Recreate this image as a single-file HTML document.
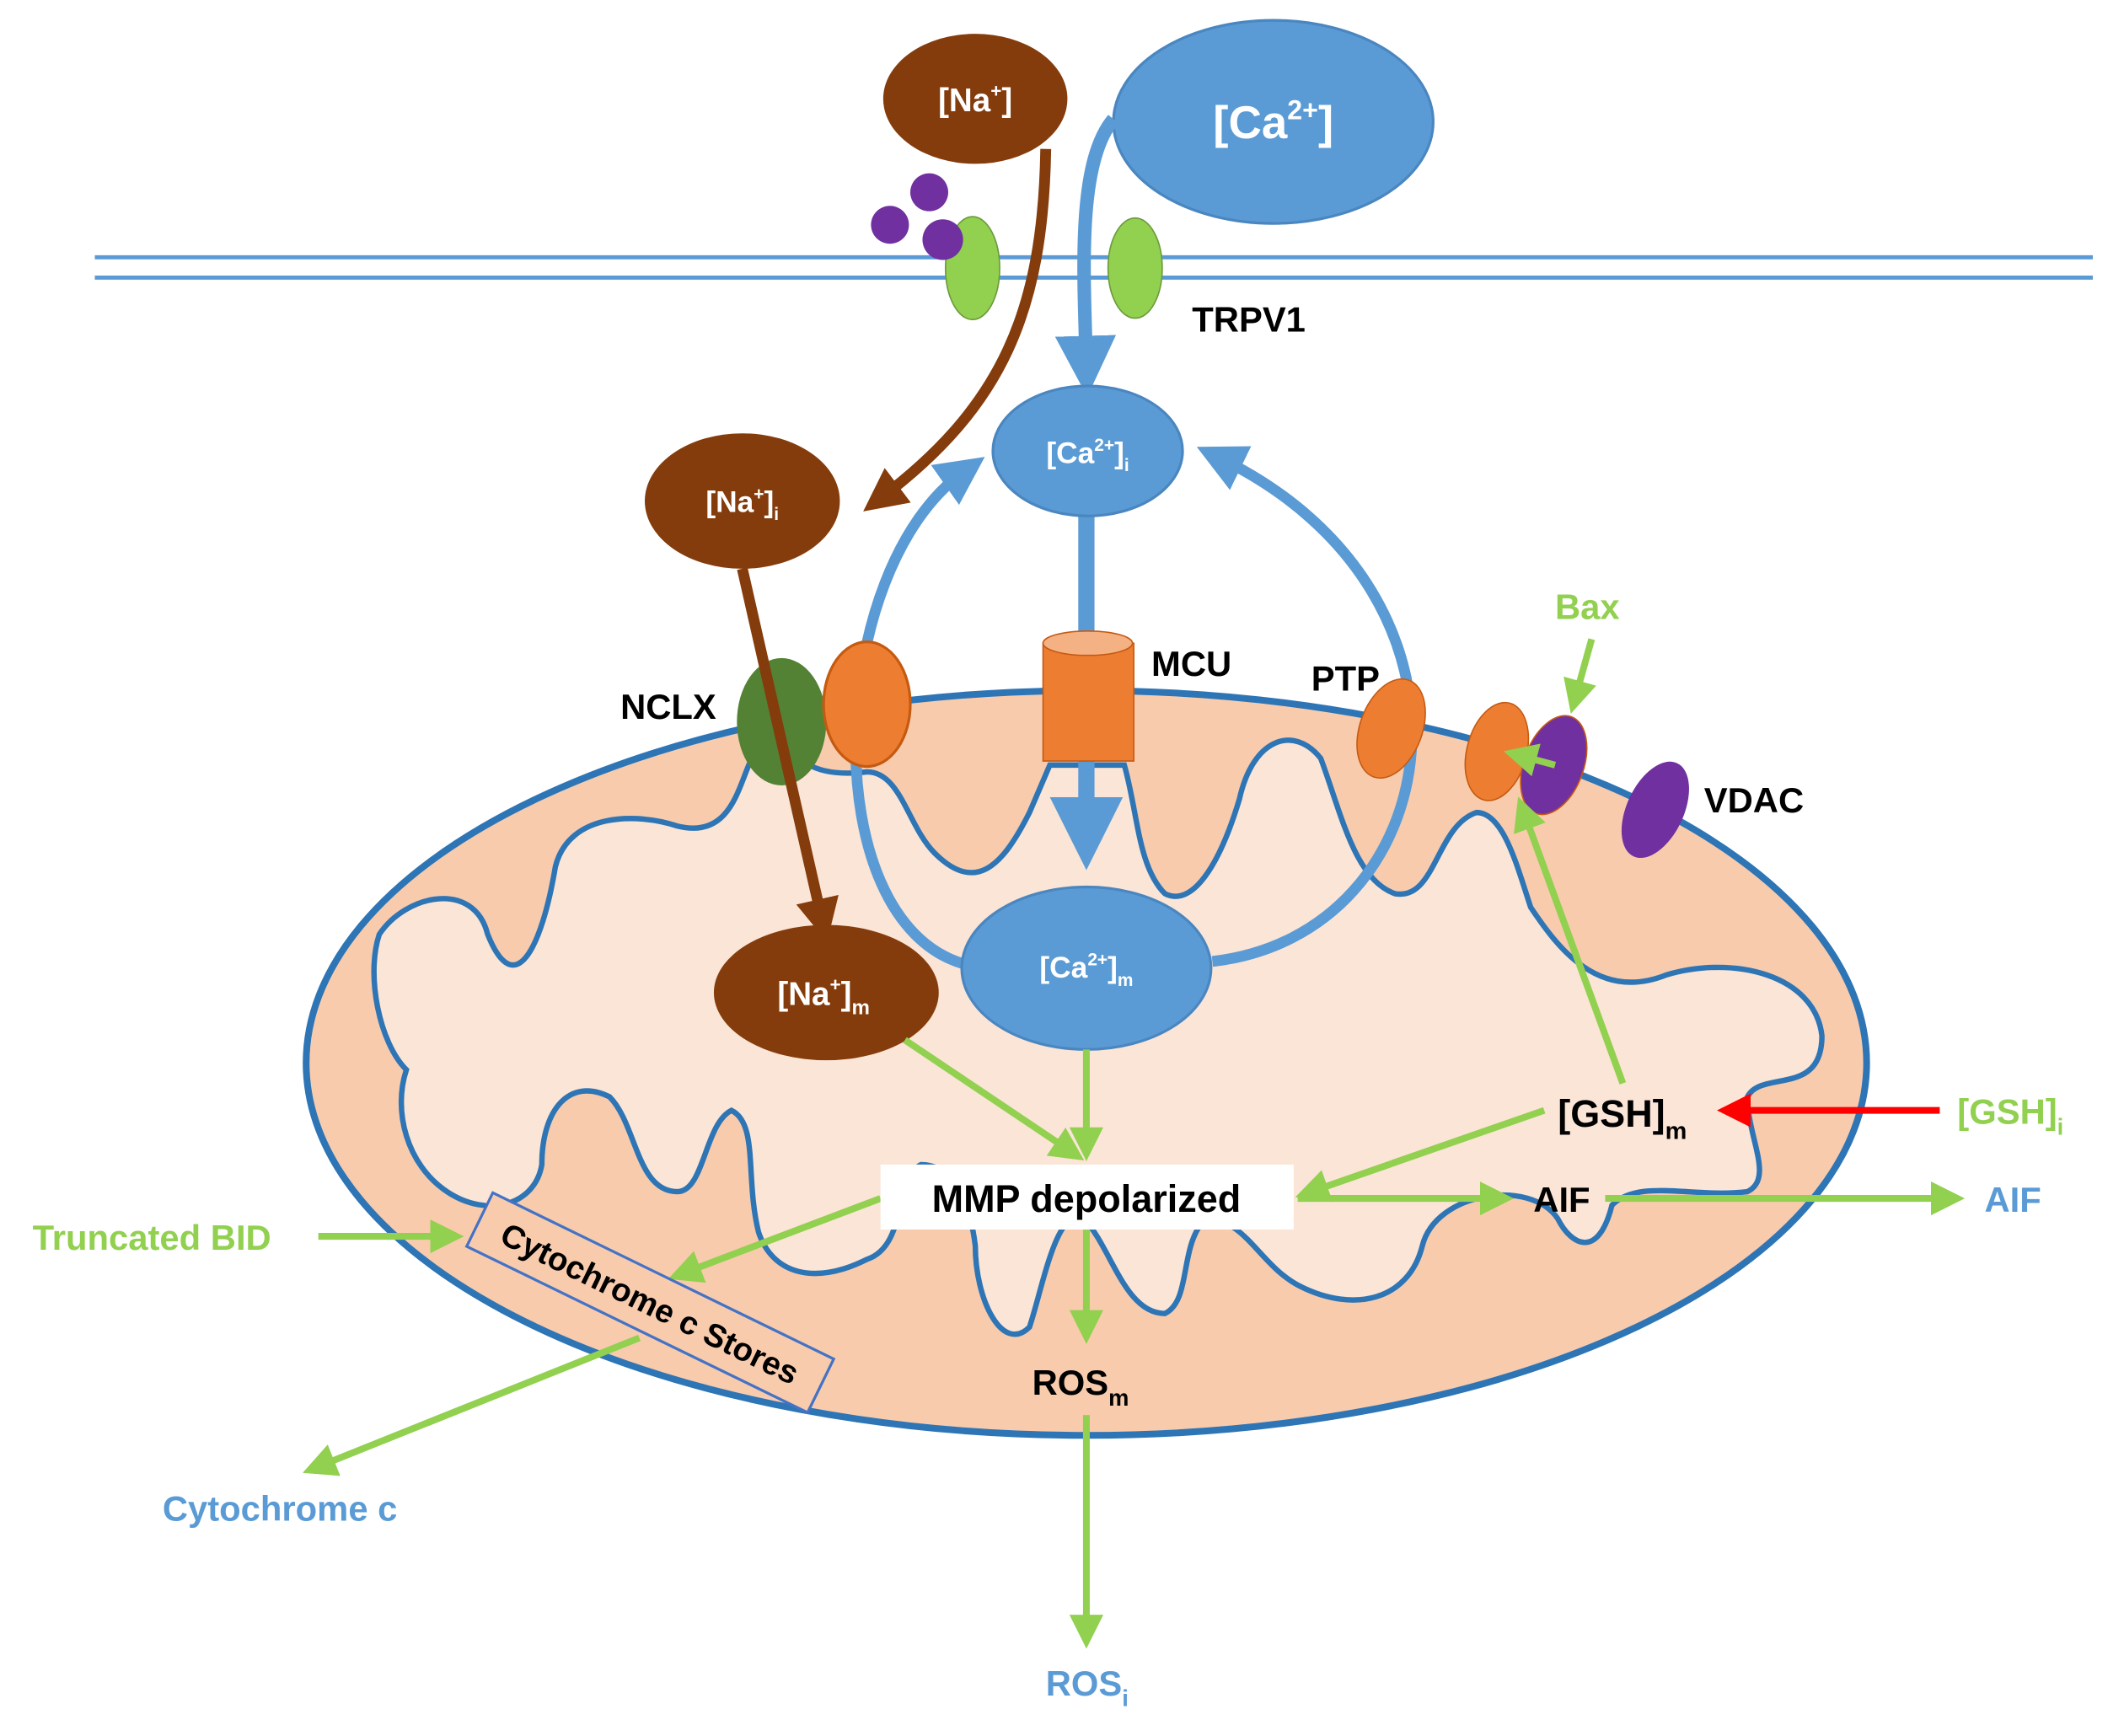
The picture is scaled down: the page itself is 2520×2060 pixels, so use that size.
<!DOCTYPE html>
<html><head><meta charset="utf-8"><style>
html,body{margin:0;padding:0;background:#fff;width:2520px;height:2060px;overflow:hidden}
svg{display:block}
text{font-family:"Liberation Sans",sans-serif;font-weight:bold}
</style></head><body>
<svg width="2520" height="2060" viewBox="0 0 1568 1282" preserveAspectRatio="none" xmlns="http://www.w3.org/2000/svg">
<defs>
<marker id="ab" markerWidth="4.5" markerHeight="4.5" refX="2.2" refY="2.25" orient="auto" markerUnits="strokeWidth"><path d="M0,0L4.5,2.25L0,4.5Z" fill="#5b9bd5"/></marker>
<marker id="ar" markerWidth="4" markerHeight="4" refX="2" refY="2" orient="auto" markerUnits="strokeWidth"><path d="M0,0L4,2L0,4Z" fill="#843c0c"/></marker>
<marker id="ag" markerWidth="5" markerHeight="5" refX="2.5" refY="2.5" orient="auto" markerUnits="strokeWidth"><path d="M0,0L5,2.5L0,5Z" fill="#92d050"/></marker>
<marker id="arr" markerWidth="5" markerHeight="5" refX="2.5" refY="2.5" orient="auto" markerUnits="strokeWidth"><path d="M0,0L5,2.5L0,5Z" fill="#ff0000"/></marker>
</defs>
<line x1="70" y1="190" x2="1545" y2="190" stroke="#5b9bd5" stroke-width="3"/>
<line x1="70" y1="205" x2="1545" y2="205" stroke="#5b9bd5" stroke-width="3"/>
<ellipse cx="802" cy="785" rx="576" ry="275" fill="#f8cbad" stroke="#2e75b6" stroke-width="5"/>
<path d="M280,690 C300,660 350,650 360,690 C380,740 400,700 410,640 C420,600 470,600 500,610 C540,620 545,580 555,560 L575,540 C585,560 600,575 640,570 C665,570 670,610 690,630 C720,660 740,640 760,600 L775,565 L830,565 C840,600 840,640 860,660 C880,670 900,640 915,590 C925,545 955,535 975,560 C990,600 1000,650 1030,660 C1060,665 1060,610 1090,600 C1110,600 1120,640 1130,670 C1150,700 1180,740 1230,720 C1280,705 1340,720 1345,765 C1345,810 1300,790 1290,810 C1290,840 1310,870 1290,880 C1250,885 1210,870 1190,890 C1180,930 1160,920 1150,900 C1130,870 1060,880 1050,920 C1040,960 1000,970 960,950 C930,935 920,900 890,900 C870,920 880,960 860,970 C830,970 820,920 800,900 C780,890 770,950 760,980 C740,1000 720,960 720,920 C715,880 700,860 680,860 C660,870 670,920 640,930 C600,950 570,940 560,910 C550,870 560,830 540,820 C520,830 520,880 500,880 C470,880 470,830 450,810 C420,795 400,820 400,860 C395,890 360,900 330,880 C300,860 290,820 300,790 C280,770 270,720 280,690Z" fill="#fbe5d6" stroke="#2e75b6" stroke-width="4"/>
<ellipse cx="720" cy="73" rx="68" ry="48" fill="#843c0c"/>
<text x="720" y="82" fill="#fff" font-size="24" text-anchor="middle">[Na<tspan font-size="14" dy="-10">+</tspan><tspan dy="10">]</tspan></text>
<ellipse cx="940" cy="90" rx="118" ry="75" fill="#5b9bd5" stroke="#4a86c0" stroke-width="2"/>
<text x="940" y="102" fill="#fff" font-size="34" text-anchor="middle">[Ca<tspan font-size="20" dy="-14">2+</tspan><tspan dy="14">]</tspan></text>
<circle cx="657" cy="166" r="14" fill="#7030a0"/><circle cx="686" cy="142" r="14" fill="#7030a0"/>
<ellipse cx="718" cy="198" rx="20" ry="38" fill="#92d050" stroke="#6a9a3a"/>
<circle cx="696" cy="177" r="15" fill="#7030a0"/>
<ellipse cx="838" cy="198" rx="20" ry="37" fill="#92d050" stroke="#6a9a3a"/>
<text x="880" y="245" font-size="26">TRPV1</text>
<path d="M822,88 C795,120 800,200 802,270" fill="none" stroke="#5b9bd5" stroke-width="10" marker-end="url(#ab)"/>
<line x1="802" y1="380" x2="802" y2="615" stroke="#5b9bd5" stroke-width="12" marker-end="url(#ab)"/>
<path d="M712,712 C600,680 610,420 712,348" fill="none" stroke="#5b9bd5" stroke-width="8" marker-end="url(#ab)"/>
<path d="M895,710 C1070,690 1110,440 900,338" fill="none" stroke="#5b9bd5" stroke-width="8" marker-end="url(#ab)"/>
<path d="M772,110 C770,230 740,300 650,368" fill="none" stroke="#843c0c" stroke-width="8" marker-end="url(#ar)"/>
<ellipse cx="577" cy="533" rx="33" ry="47" fill="#548235"/>
<ellipse cx="640" cy="520" rx="32" ry="46" fill="#ed7d31" stroke="#c55a11" stroke-width="2"/>
<rect x="770" y="475" width="67" height="87" fill="#ed7d31" stroke="#c55a11"/>
<ellipse cx="803" cy="475" rx="33" ry="9" fill="#f4b183" stroke="#c55a11"/>
<ellipse cx="1027" cy="538" rx="23" ry="38" transform="rotate(20 1027 538)" fill="#ed7d31" stroke="#c55a11"/>
<ellipse cx="1105" cy="555" rx="22" ry="37" transform="rotate(15 1105 555)" fill="#ed7d31" stroke="#c55a11"/>
<ellipse cx="1147" cy="565" rx="22" ry="38" transform="rotate(20 1147 565)" fill="#7030a0" stroke="#c55a11"/>
<ellipse cx="1222" cy="598" rx="21" ry="38" transform="rotate(25 1222 598)" fill="#7030a0"/>
<line x1="548" y1="420" x2="607" y2="680" stroke="#843c0c" stroke-width="8" marker-end="url(#ar)"/>
<text x="458" y="531" font-size="26">NCLX</text>
<text x="850" y="499" font-size="26">MCU</text>
<text x="968" y="510" font-size="26">PTP</text>
<text x="1258" y="600" font-size="26">VDAC</text>
<text x="1148" y="457" font-size="26" fill="#92d050">Bax</text>
<line x1="1175" y1="472" x2="1163" y2="515" stroke="#92d050" stroke-width="5" marker-end="url(#ag)"/>
<line x1="1148" y1="565" x2="1122" y2="558" stroke="#92d050" stroke-width="5" marker-end="url(#ag)"/>
<ellipse cx="803" cy="333" rx="70" ry="48" fill="#5b9bd5" stroke="#4a86c0" stroke-width="2"/>
<text x="803" y="342" fill="#fff" font-size="22" text-anchor="middle">[Ca<tspan font-size="13" dy="-9">2+</tspan><tspan dy="9">]</tspan><tspan font-size="13" dy="6">i</tspan></text>
<ellipse cx="548" cy="370" rx="72" ry="50" fill="#843c0c"/>
<text x="548" y="378" fill="#fff" font-size="22" text-anchor="middle">[Na<tspan font-size="13" dy="-9">+</tspan><tspan dy="9">]</tspan><tspan font-size="13" dy="6">i</tspan></text>
<ellipse cx="802" cy="715" rx="92" ry="60" fill="#5b9bd5" stroke="#4a86c0" stroke-width="2"/>
<text x="802" y="722" fill="#fff" font-size="22" text-anchor="middle">[Ca<tspan font-size="13" dy="-9">2+</tspan><tspan dy="9">]</tspan><tspan font-size="13" dy="6">m</tspan></text>
<ellipse cx="610" cy="733" rx="83" ry="50" fill="#843c0c"/>
<text x="608" y="742" fill="#fff" font-size="24" text-anchor="middle">[Na<tspan font-size="14" dy="-10">+</tspan><tspan dy="10">]</tspan><tspan font-size="15" dy="7">m</tspan></text>
<line x1="802" y1="775" x2="802" y2="845" stroke="#92d050" stroke-width="5" marker-end="url(#ag)"/>
<line x1="668" y1="768" x2="790" y2="850" stroke="#92d050" stroke-width="5" marker-end="url(#ag)"/>
<line x1="1140" y1="820" x2="968" y2="880" stroke="#92d050" stroke-width="5" marker-end="url(#ag)"/>
<line x1="958" y1="885" x2="1105" y2="885" stroke="#92d050" stroke-width="5" marker-end="url(#ag)"/>
<line x1="1185" y1="885" x2="1438" y2="885" stroke="#92d050" stroke-width="5" marker-end="url(#ag)"/>
<line x1="1198" y1="800" x2="1125" y2="600" stroke="#92d050" stroke-width="5" marker-end="url(#ag)"/>
<line x1="802" y1="908" x2="802" y2="980" stroke="#92d050" stroke-width="5" marker-end="url(#ag)"/>
<line x1="802" y1="1045" x2="802" y2="1205" stroke="#92d050" stroke-width="5" marker-end="url(#ag)"/>
<line x1="650" y1="885" x2="505" y2="940" stroke="#92d050" stroke-width="5" marker-end="url(#ag)"/>
<line x1="235" y1="913" x2="330" y2="913" stroke="#92d050" stroke-width="5" marker-end="url(#ag)"/>
<line x1="472" y1="988" x2="235" y2="1083" stroke="#92d050" stroke-width="5" marker-end="url(#ag)"/>
<line x1="1432" y1="820" x2="1280" y2="820" stroke="#ff0000" stroke-width="5" marker-end="url(#arr)"/>
<rect x="650" y="860" width="305" height="48" fill="#fff"/>
<text x="802" y="895" font-size="28" text-anchor="middle">MMP depolarized</text>
<text x="1150" y="832" font-size="28">[GSH]<tspan font-size="18" dy="9">m</tspan></text>
<text x="1445" y="830" font-size="26" fill="#92d050" font-weight="normal">[GSH]<tspan font-size="17" dy="8">i</tspan></text>
<text x="1132" y="895" font-size="26">AIF</text>
<text x="1465" y="895" font-size="26" fill="#5b9bd5">AIF</text>
<text x="762" y="1030" font-size="26">ROS<tspan font-size="17" dy="8">m</tspan></text>
<text x="772" y="1252" font-size="26" fill="#5b9bd5" font-weight="normal">ROS<tspan font-size="17" dy="8">i</tspan></text>
<text x="24" y="923" font-size="26" fill="#92d050">Truncated BID</text>
<text x="120" y="1123" font-size="26" fill="#5b9bd5">Cytochrome c</text>
<g transform="translate(480,962) rotate(26)">
<rect x="-140" y="-22" width="280" height="44" fill="#f8cbad" stroke="#4472c4" stroke-width="2"/>
<text x="0" y="9" font-size="24" text-anchor="middle">Cytochrome c Stores</text>
</g>
</svg>
</body></html>
